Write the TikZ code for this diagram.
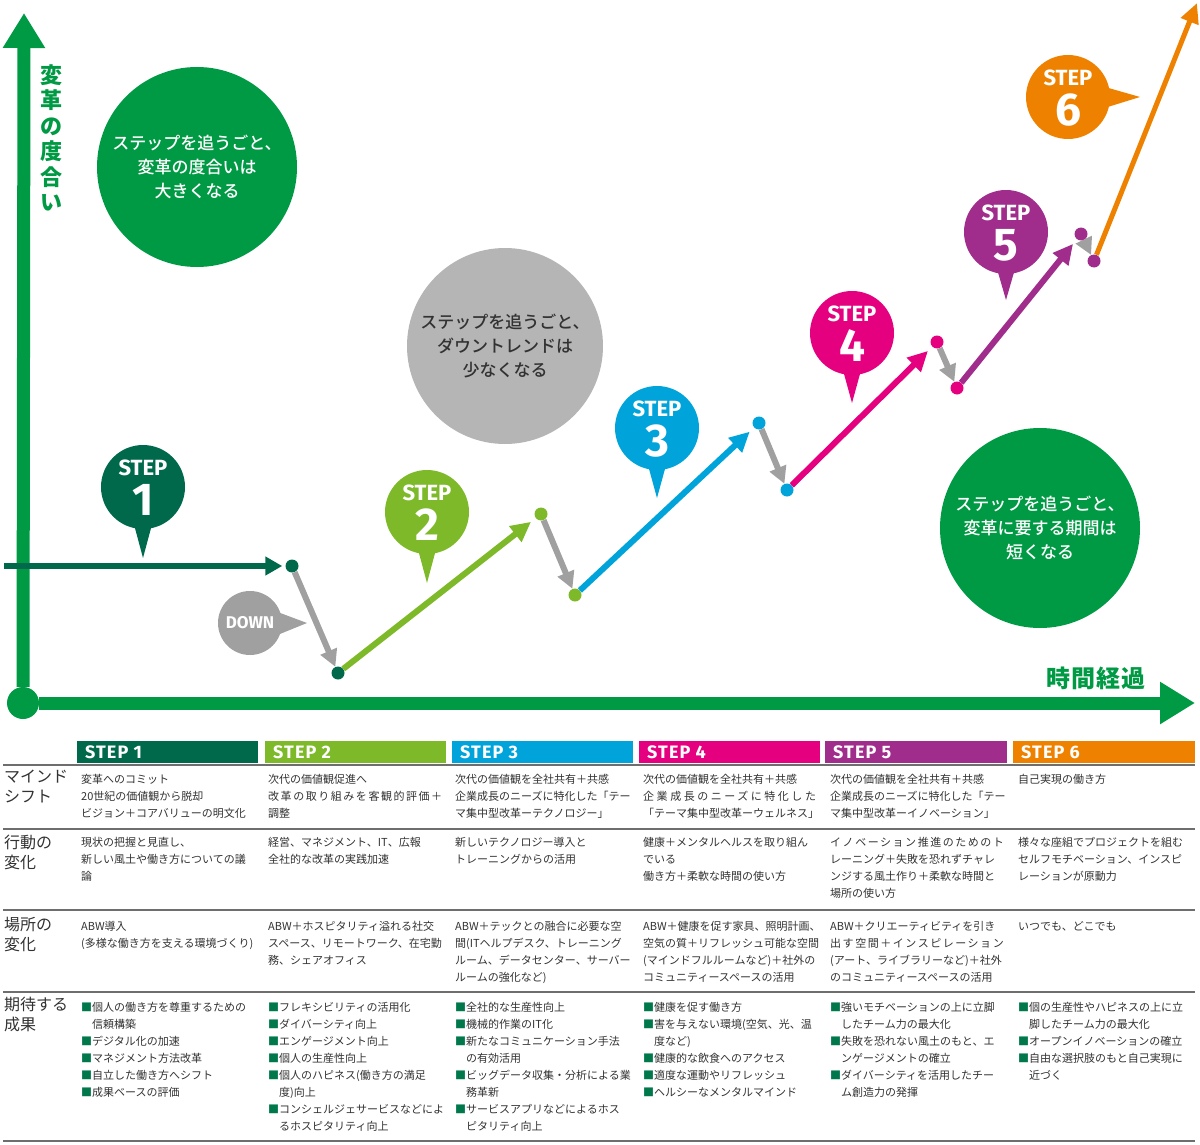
\documentclass[tikz,border=0pt]{standalone}
\usepackage{fontspec}
\setmainfont{Noto Sans CJK JP}
\newfontfamily\medfont{Noto Sans CJK JP Medium}
\newfontfamily\stepfont{Fira Sans}
\usetikzlibrary{arrows.meta,calc}

\definecolor{axgreen}{RGB}{0,153,68}
\definecolor{s1col}{RGB}{0,105,76}
\definecolor{s2col}{RGB}{125,185,40}
\definecolor{s3col}{RGB}{0,163,218}
\definecolor{s4col}{RGB}{228,0,127}
\definecolor{s5col}{RGB}{160,45,140}
\definecolor{s6col}{RGB}{238,130,0}
\definecolor{dropgray}{RGB}{160,160,160}
\definecolor{ballgray}{RGB}{181,181,181}
\definecolor{txtgray}{RGB}{50,50,50}
\definecolor{rulegray}{RGB}{110,110,110}
\definecolor{bulgreen}{RGB}{0,120,75}

\newcommand{\sq}{{\color{bulgreen}■}}

\begin{document}
\begin{tikzpicture}[x=1pt,y=-1pt,
  dot/.style={circle,inner sep=0pt,minimum size=13pt},
  rise/.style={line width=6pt,-{Triangle[length=20pt,width=19pt]},shorten >=6pt},
  drop/.style={draw=dropgray,line width=6pt,-{Triangle[length=17pt,width=17pt]}},
  axis/.style={draw=axgreen,line width=13pt,-{Triangle[length=35pt,width=40pt]}},
  bigball/.style={circle,inner sep=0pt,align=center,font=\medfont\fontsize{17}{24}\selectfont},
  steptag/.style={text=white,font=\stepfont\bfseries\fontsize{22}{22}\selectfont,inner sep=0pt},
  stepnum/.style={text=white,font=\stepfont\bfseries\fontsize{46}{46}\selectfont,inner sep=0pt},
  headtxt/.style={anchor=west,text=white,font=\stepfont\bfseries\fontsize{18}{18}\selectfont\addfontfeature{LetterSpace=6},inner sep=0pt},
  rowlab/.style={anchor=north west,align=left,text=txtgray,inner sep=0pt,font=\fontsize{16}{20}\selectfont},
  cell/.style={anchor=north west,align=left,text=txtgray,inner sep=0pt,font=\fontsize{11}{17}\selectfont},
  rule/.style={draw=rulegray,line width=2pt}]
\useasboundingbox (0,0) rectangle (1200,1145);

% axes
\node[dot,fill=axgreen,minimum size=32pt] (o) at (23,703) {};
\coordinate (ytop) at (24,13);
\coordinate (xend) at (1195,703);
\draw[axis] (o) -- (ytop);
\draw[axis] (o) -- (xend);
\node[text=axgreen,align=center,font=\bfseries\fontsize{22}{25.5}\selectfont] (ylab) at (51,138) {変\\革\\の\\度\\合\\い};
\node[text=axgreen,font=\bfseries\fontsize{24}{24}\selectfont\addfontfeature{LetterSpace=4}] (xlab) at (1096,678) {時間経過};

% message balls
\node[bigball,fill=axgreen,text=white,minimum size=200pt] (msg1) at (197,167) {ステップを追うごと、\\変革の度合いは\\大きくなる};
\node[bigball,fill=ballgray,text=txtgray,minimum size=196pt] (msg2) at (505,346) {ステップを追うごと、\\ダウントレンドは\\少なくなる};
\node[bigball,fill=axgreen,text=white,minimum size=200pt] (msg3) at (1040,528) {ステップを追うごと、\\変革に要する期間は\\短くなる};

% pins
\fill[s1col] (143,487) circle (42);
\fill[s1col] (132,517) -- (143,558) -- (154,517) -- cycle;
\node[steptag] (tag1) at (143,468) {STEP};
\node[stepnum] (num1) at (143,500) {1};
\fill[s2col] (427,512) circle (42);
\fill[s2col] (416,542) -- (427,583) -- (438,542) -- cycle;
\node[steptag] (tag2) at (427,493) {STEP};
\node[stepnum] (num2) at (427,525) {2};
\fill[s3col] (657,428) circle (42);
\fill[s3col] (646,458) -- (657,498) -- (668,458) -- cycle;
\node[steptag] (tag3) at (657,409) {STEP};
\node[stepnum] (num3) at (657,441) {3};
\fill[s4col] (852,333) circle (42);
\fill[s4col] (841,363) -- (852,403) -- (863,363) -- cycle;
\node[steptag] (tag4) at (852,314) {STEP};
\node[stepnum] (num4) at (852,346) {4};
\fill[s5col] (1006,232) circle (42);
\fill[s5col] (995,262) -- (1006,300) -- (1017,262) -- cycle;
\node[steptag] (tag5) at (1006,213) {STEP};
\node[stepnum] (num5) at (1006,245) {5};
\fill[s6col] (1068,97) circle (42);
\fill[s6col] (1098,85) -- (1140,97) -- (1098,110) -- cycle;
\node[steptag] (tag6) at (1068,78) {STEP};
\node[stepnum] (num6) at (1068,110) {6};
\fill[dropgray] (250,623) circle (32);
\fill[dropgray] (275,611) -- (307,623) -- (275,636) -- cycle;
\node[text=white,font=\stepfont\bfseries\fontsize{17}{17}\selectfont,inner sep=0pt] (down) at (250,623) {DOWN};

% the path
\coordinate (s1start) at (4,566);
\node[dot,fill=s1col] (d1) at (292,566) {};
\node[dot,fill=s1col] (d2) at (338,673) {};
\node[dot,fill=s2col] (d3) at (541,514) {};
\node[dot,fill=s2col] (d4) at (575,595) {};
\node[dot,fill=s3col] (d5) at (759,423) {};
\node[dot,fill=s3col] (d6) at (787,490) {};
\node[dot,fill=s4col] (d7) at (937,342) {};
\node[dot,fill=s4col] (d8) at (957,388) {};
\node[dot,fill=s5col] (d9) at (1081,234) {};
\node[dot,fill=s5col] (d10) at (1094,261) {};
\coordinate (s6end) at (1197,3);
\draw[s1col,line width=6pt,-{Triangle[length=17pt,width=18pt]},shorten >=3pt] (s1start) -- (d1);
\draw[drop] (d1) -- (d2);
\draw[rise,s2col] (d2) -- (d3);
\draw[drop] (d3) -- (d4);
\draw[rise,s3col] (d4) -- (d5);
\draw[drop] (d5) -- (d6);
\draw[rise,s4col] (d6) -- (d7);
\draw[drop] (d7) -- (d8);
\draw[rise,s5col] (d8) -- (d9);
\draw[drop] (d9) -- (d10);
\draw[s6col,line width=5pt,-{Triangle[length=20pt,width=18pt]}] (d10) -- (s6end);

% table head
\fill[s1col] (77,741) rectangle (258,763);
\node[headtxt] (h1) at (85,752) {STEP 1};
\fill[s2col] (265,741) rectangle (446,763);
\node[headtxt] (h2) at (273,752) {STEP 2};
\fill[s3col] (452,741) rectangle (633,763);
\node[headtxt] (h3) at (460,752) {STEP 3};
\fill[s4col] (639,741) rectangle (820,763);
\node[headtxt] (h4) at (647,752) {STEP 4};
\fill[s5col] (825,741) rectangle (1007,763);
\node[headtxt] (h5) at (833,752) {STEP 5};
\fill[s6col] (1013,741) rectangle (1195,763);
\node[headtxt] (h6) at (1021,752) {STEP 6};

% rules
\draw[rule] (3,765) -- (1195,765);
\draw[rule] (3,829) -- (1195,829);
\draw[rule] (3,910) -- (1195,910);
\draw[rule] (3,992) -- (1195,992);
\draw[rule] (3,1141) -- (1195,1141);

% row labels
\node[rowlab] (lab1) at (4,770) {マインド\\シフト};
\node[rowlab] (lab2) at (4,835) {行動の\\変化};
\node[rowlab] (lab3) at (4,917) {場所の\\変化};
\node[rowlab] (lab4) at (4,997) {期待する\\成果};

% mind shift
\node[cell] (c11) at (81,774) {変革へのコミット\\20世紀の価値観から脱却\\ビジョン＋コアバリューの明文化};
\node[cell] (c12) at (268,774) {次代の価値観促進へ\\{\addfontfeature{LetterSpace=14}改革の取り組みを客観的評価＋}\\調整};
\node[cell] (c13) at (455,774) {次代の価値観を全社共有＋共感\\企業成長のニーズに特化した「テー\\マ集中型改革ーテクノロジー」};
\node[cell] (c14) at (643,774) {次代の価値観を全社共有＋共感\\{\addfontfeature{LetterSpace=23}企業成長のニーズに特化した}\\「テーマ集中型改革ーウェルネス」};
\node[cell] (c15) at (830,774) {次代の価値観を全社共有＋共感\\企業成長のニーズに特化した「テー\\マ集中型改革ーイノベーション」};
\node[cell] (c16) at (1018,774) {自己実現の働き方};

% action
\node[cell] (c21) at (81,837) {現状の把握と見直し、\\新しい風土や働き方についての議\\論};
\node[cell] (c22) at (268,837) {経営、マネジメント、IT、広報\\全社的な改革の実践加速};
\node[cell] (c23) at (455,837) {新しいテクノロジー導入と\\トレーニングからの活用};
\node[cell] (c24) at (643,837) {健康＋メンタルヘルスを取り組ん\\でいる\\働き方＋柔軟な時間の使い方};
\node[cell] (c25) at (830,837) {{\addfontfeature{LetterSpace=14}イノベーション推進のためのト}\\レーニング＋失敗を恐れずチャレ\\ンジする風土作り＋柔軟な時間と\\場所の使い方};
\node[cell] (c26) at (1018,837) {様々な座組でプロジェクトを組む\\セルフモチベーション、インスピ\\レーションが原動力};

% place
\node[cell] (c31) at (81,921) {ABW導入\\(多様な働き方を支える環境づくり)};
\node[cell] (c32) at (268,921) {ABW＋ホスピタリティ溢れる社交\\スペース、リモートワーク、在宅勤\\務、シェアオフィス};
\node[cell] (c33) at (455,921) {ABW＋テックとの融合に必要な空\\間(ITヘルプデスク、トレーニング\\ルーム、データセンター、サーバー\\ルームの強化など)};
\node[cell] (c34) at (643,921) {ABW＋健康を促す家具、照明計画、\\空気の質＋リフレッシュ可能な空間\\(マインドフルルームなど)＋社外の\\コミュニティースペースの活用};
\node[cell] (c35) at (830,921) {ABW＋クリエーティビティを引き\\{\addfontfeature{LetterSpace=14}出す空間＋インスピレーション}\\(アート、ライブラリーなど)＋社外\\のコミュニティースペースの活用};
\node[cell] (c36) at (1018,921) {いつでも、どこでも};

% results
\node[cell] (c41) at (81,1002) {\sq 個人の働き方を尊重するための\\\hspace*{11pt}信頼構築\\\sq デジタル化の加速\\\sq マネジメント方法改革\\\sq 自立した働き方へシフト\\\sq 成果ベースの評価};
\node[cell] (c42) at (268,1002) {\sq フレキシビリティの活用化\\\sq ダイバーシティ向上\\\sq エンゲージメント向上\\\sq 個人の生産性向上\\\sq 個人のハピネス(働き方の満足\\\hspace*{11pt}度)向上\\\sq コンシェルジェサービスなどによ\\\hspace*{11pt}るホスピタリティ向上};
\node[cell] (c43) at (455,1002) {\sq 全社的な生産性向上\\\sq 機械的作業のIT化\\\sq 新たなコミュニケーション手法\\\hspace*{11pt}の有効活用\\\sq ビッグデータ収集・分析による業\\\hspace*{11pt}務革新\\\sq サービスアプリなどによるホス\\\hspace*{11pt}ピタリティ向上};
\node[cell] (c44) at (643,1002) {\sq 健康を促す働き方\\\sq 害を与えない環境(空気、光、温\\\hspace*{11pt}度など)\\\sq 健康的な飲食へのアクセス\\\sq 適度な運動やリフレッシュ\\\sq ヘルシーなメンタルマインド};
\node[cell] (c45) at (830,1002) {\sq 強いモチベーションの上に立脚\\\hspace*{11pt}したチーム力の最大化\\\sq 失敗を恐れない風土のもと、エ\\\hspace*{11pt}ンゲージメントの確立\\\sq ダイバーシティを活用したチー\\\hspace*{11pt}ム創造力の発揮};
\node[cell] (c46) at (1018,1002) {\sq 個の生産性やハピネスの上に立\\\hspace*{11pt}脚したチーム力の最大化\\\sq オープンイノベーションの確立\\\sq 自由な選択肢のもと自己実現に\\\hspace*{11pt}近づく};
\end{tikzpicture}
\end{document}
